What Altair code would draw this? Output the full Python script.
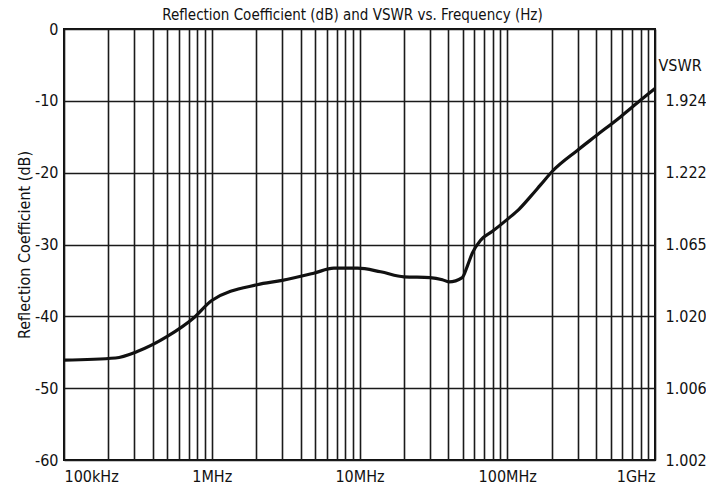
import altair as alt
import pandas as pd

# ---- data ----
freq_hz = [1.0e5, 2.23e5, 3.13e5, 5.0e5, 7.57e5, 1.0e6, 2.03e6, 3.0e6, 4.9e6, 6.7e6,
           9.7e6, 13.9e6, 20.0e6, 30.0e6, 36.4e6, 40.3e6, 49.6e6, 53.7e6, 58.0e6, 66.0e6,
           79.0e6, 100e6, 120e6, 144e6, 168e6, 202e6, 298e6, 397e6, 586e6, 800e6, 1.0e9]
refl_db = [-46.1, -45.8, -44.9, -42.8, -40.2, -37.8, -35.6, -35.0, -34.0, -33.3,
           -33.3, -33.8, -34.5, -34.6, -34.9, -35.2, -34.6, -33.0, -31.2, -29.4,
           -28.2, -26.5, -25.1, -23.3, -21.7, -19.8, -16.9, -14.9, -12.2, -9.9, -8.3]

decade_ticks = [100000, 1000000, 10000000, 100000000, 1000000000]
decade_labels = ["100kHz", "1MHz", "10MHz", "100MHz", "1GHz"]
db_ticks = [0, -10, -20, -30, -40, -50, -60]
db_labels = ["0", "-10", "-20", "-30", "-40", "-50", "-60"]
vswr_labels = ["", "1.924", "1.222", "1.065", "1.020", "1.006", "1.002"]

title_text = ["Reflection Coefficient (dB) and VSWR vs. Frequency (Hz)"]
y_title = "Reflection Coefficient (dB)"
right_title = "VSWR"

FONT = "Liberation Sans Narrow, DejaVu Sans Condensed, Liberation Sans, sans-serif"
INK = "#111111"

df = pd.DataFrame({"freq": freq_hz, "db": refl_db})
title_df = pd.DataFrame({"t": title_text})

# grid positions: 1..9 x each decade
x_grid = [m * 10 ** e for e in range(5, 9) for m in range(1, 10)] + [10 ** 9]


def chain_expr(vals, labels):
    expr = "''"
    for v, l in reversed(list(zip(vals, labels))):
        expr = f"abs(datum.value - ({v})) < 0.5 ? '{l}' : " + expr
    return expr


x_label_expr = chain_expr(decade_ticks, decade_labels)
left_label_expr = chain_expr(db_ticks, db_labels)
right_label_expr = chain_expr(db_ticks, vswr_labels)

xscale = alt.Scale(type="log", domain=[1e5, 1e9], nice=False)
yscale = alt.Scale(domain=[-60, 0], nice=False)

x_axis = alt.Axis(values=x_grid, grid=True, gridColor="#1a1a1a", gridWidth=1.6,
                  gridOpacity=1, ticks=False, tickSize=0, domain=False,
                  labelExpr=x_label_expr, labelFlush=True, labelOverlap=False,
                  labelBaseline="alphabetic", labelPadding=21,
                  labelFontSize=16, labelColor=INK,
                  labelFont=FONT, title=None)

main = alt.Chart(df).mark_line(
    color=INK, strokeWidth=3.2, interpolate="monotone"
).encode(
    x=alt.X("freq:Q", scale=xscale, axis=x_axis),
    y=alt.Y("db:Q", scale=yscale,
            axis=alt.Axis(values=db_ticks, grid=True, gridColor="#1a1a1a", gridWidth=1.6,
                          gridOpacity=1, ticks=False, tickSize=0, domain=False,
                          labelExpr=left_label_expr, labelOverlap=False,
                          labelPadding=6, labelFontSize=16, labelColor=INK,
                          labelFont=FONT, title=y_title, titleFont=FONT,
                          titleFontSize=16, titleFontWeight="normal",
                          titleColor=INK, titlePadding=2)),
)

right = alt.Chart(df).mark_line(opacity=0).encode(
    x=alt.X("freq:Q", scale=xscale, axis=x_axis),
    y=alt.Y("db:Q", scale=yscale,
            axis=alt.Axis(orient="right", values=db_ticks, grid=False, ticks=False,
                          tickSize=0, domain=False, labelExpr=right_label_expr,
                          labelOverlap=False,
                          labelPadding=10, labelFontSize=16, labelColor=INK,
                          labelFont=FONT, title=right_title, titleFont=FONT,
                          titleFontSize=16, titleFontWeight="normal",
                          titleColor=INK, titleAngle=0, titleAlign="left",
                          titleBaseline="alphabetic", titleX=3, titleY=41)),
)

title_mark = alt.Chart(title_df).mark_text(
    font=FONT, fontSize=15, color=INK, align="center", baseline="alphabetic"
).encode(
    text="t:N",
    x=alt.value(288.5),
    y=alt.value(-9),
)

chart = alt.layer(main, right, title_mark).resolve_scale(y="independent").properties(
    width=591, height=431,
    autosize=alt.AutoSizeParams(type="none"),
    padding={"left": 56, "top": 21, "right": 51, "bottom": 26},
).configure_view(stroke=INK, strokeWidth=2)

chart.save("out.html", embed_options={"renderer": "svg", "actions": False})
